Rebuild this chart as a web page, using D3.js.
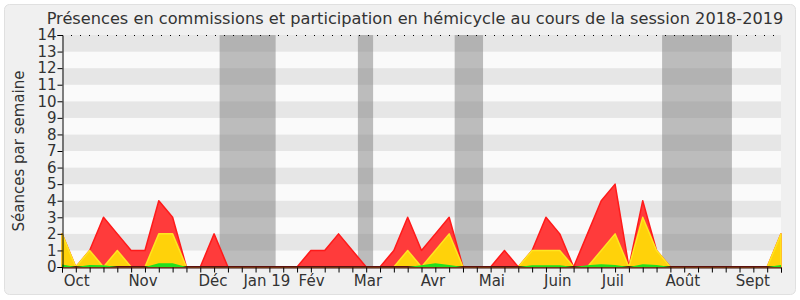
<!DOCTYPE html>
<html lang="fr">
	<head>
		<meta charset="utf-8">
		<title>Présences 2018-2019</title>
		<script type="text/javascript" src="https://d3js.org/d3.v7.min.js"></script>
		<style type="text/css">
			body { margin: 0; background: #ffffff; }
			text { font-family: "DejaVu Sans", sans-serif; fill: #333333; }
		</style>
	</head>
	<body>
		<script type="text/javascript">

			//Weekly values, session Oct 2018 - Sept 2019 (53 weeks)
			var redValues = [2,0,1,3,2,1,1,4,3,0,0,2,0,0,0,0,0,0,1,1,2,1,0,0,1,3,1,2,3,0,0,0,1,0,1,3,2,0,2,4,5,0,4,1,0,0,0,0,0,0,0,0,2];
			var yellowValues = [2,0,1,0,1,0,0,2,2,0,0,0,0,0,0,0,0,0,0,0,0,0,0,0,0,1,0,1,2,0,0,0,0,0,1,1,1,0,0,1,2,0,3,1,0,0,0,0,0,0,0,0,2];
			var greenValues = [0.15,0,0.12,0.1,0,0,0,0.22,0.22,0,0,0,0,0,0,0,0,0,0,0,0,0,0,0,0,0,0.1,0.22,0.12,0,0,0,0,0,0.1,0.1,0.1,0,0.1,0.17,0.12,0,0.17,0.12,0,0,0,0,0,0,0,0,0.12];

			//Vacation periods, in week units
			var vacations = [[11.4, 15.45], [21.4, 22.5], [28.4, 30.45], [43.4, 48.45]];

			//Month labels and their position in week units
			var monthLabels = ["Oct", "Nov", "Déc", "Jan 19", "Fév", "Mar", "Avr", "Mai", "Juin", "Juil", "Août", "Sept"];
			var monthPos = [1.06, 5.86, 10.92, 14.82, 18.05, 22.13, 26.83, 31.09, 35.86, 39.84, 44.9, 49.96];

			var yTicks = d3.range(0, 15);

			//Width and height
			var w = 800;
			var h = 300;
			var padLeft = 62, padRight = 781, padTop = 35, padBottom = 267;

			var xScale = d3.scaleLinear()
							.domain([0, redValues.length - 1])
							.range([padLeft, padRight]);

			var yScale = d3.scaleLinear()
							.domain([0, 14])
							.range([padBottom, padTop]);

			var svg = d3.select("body")
						.append("svg")
						.attr("width", w)
						.attr("height", h);

			//Panel
			svg.append("rect")
				.attr("x", 4.5)
				.attr("y", 4.5)
				.attr("width", 791)
				.attr("height", 290)
				.attr("rx", 5)
				.attr("fill", "#f0f0f0")
				.attr("stroke", "#e0e0e0");

			//Horizontal stripes
			svg.selectAll("rect.stripe")
				.data(d3.range(0, 14))
				.enter()
				.append("rect")
				.attr("class", "stripe")
				.attr("x", padLeft)
				.attr("y", function(d) { return yScale(d + 1); })
				.attr("width", padRight - padLeft)
				.attr("height", function(d) { return yScale(d) - yScale(d + 1); })
				.attr("fill", function(d) { return d % 2 ? "#e6e6e6" : "#fafafa"; });

			//Vacation bands
			svg.selectAll("rect.vac")
				.data(vacations)
				.enter()
				.append("rect")
				.attr("class", "vac")
				.attr("x", function(d) { return xScale(d[0]); })
				.attr("y", padTop)
				.attr("width", function(d) { return xScale(d[1]) - xScale(d[0]); })
				.attr("height", padBottom - padTop)
				.attr("fill", "#777777")
				.attr("fill-opacity", 0.47);

			//Top dotted line
			svg.append("line")
				.attr("x1", padLeft)
				.attr("x2", padRight)
				.attr("y1", padTop + 0.5)
				.attr("y2", padTop + 0.5)
				.attr("stroke", "#000")
				.attr("stroke-dasharray", "1,8");

			//Areas
			function drawArea(values, fill, stroke) {
				var area = d3.area()
							.x(function(d, i) { return xScale(i); })
							.y0(yScale(0))
							.y1(function(d) { return yScale(d); });
				svg.append("path")
					.datum(values)
					.attr("d", area)
					.attr("fill", fill)
					.attr("stroke", stroke)
					.attr("stroke-width", 1.5)
					.attr("stroke-linejoin", "round");
			}
			drawArea(redValues, "#ff3b3b", "#ff1a1a");
			drawArea(yellowValues, "#ffd20a", "#ffe620");

			//Baseline at zero
			svg.append("line")
				.attr("x1", padLeft)
				.attr("x2", padRight)
				.attr("y1", padBottom - 0.25)
				.attr("y2", padBottom - 0.25)
				.attr("stroke", "#5a1010")
				.attr("stroke-width", 1.5);

			drawArea(greenValues, "#22e01e", "none");

			//Y axis
			var yAxis = d3.axisLeft(yScale)
							.tickValues(yTicks)
							.tickSize(5)
							.tickFormat(d3.format("d"));
			var gy = svg.append("g")
						.attr("transform", "translate(" + (padLeft + 0.5) + ",0)")
						.call(yAxis);
			gy.selectAll("text").style("font-size", "15px").attr("x", -6);
			gy.selectAll("line, path").attr("stroke", "#000");

			//X axis, one tick per week
			var xAxis = d3.axisBottom(xScale)
							.tickValues(d3.range(0, redValues.length))
							.tickSize(5)
							.tickFormat("");
			var gx = svg.append("g")
						.attr("transform", "translate(0," + (padBottom + 0.5) + ")")
						.call(xAxis);
			gx.selectAll("line").attr("stroke", "#000");
			gx.select("path").attr("stroke", "#3a0a0a");

			//Month labels
			svg.selectAll("text.month")
				.data(monthLabels)
				.enter()
				.append("text")
				.attr("class", "month")
				.attr("x", function(d, i) { return xScale(monthPos[i]); })
				.attr("y", 286)
				.attr("text-anchor", "middle")
				.style("font-size", "15px")
				.text(function(d) { return d; });

			//Title
			svg.append("text")
				.attr("x", 415)
				.attr("y", 24)
				.attr("text-anchor", "middle")
				.style("font-size", "16.2px")
				.text("Présences en commissions et participation en hémicycle au cours de la session 2018-2019");

			//Y label
			svg.append("text")
				.attr("transform", "translate(24," + ((padTop + padBottom) / 2) + ") rotate(-90)")
				.attr("text-anchor", "middle")
				.style("font-size", "15px")
				.text("Séances par semaine");

		</script>
	</body>
</html>
